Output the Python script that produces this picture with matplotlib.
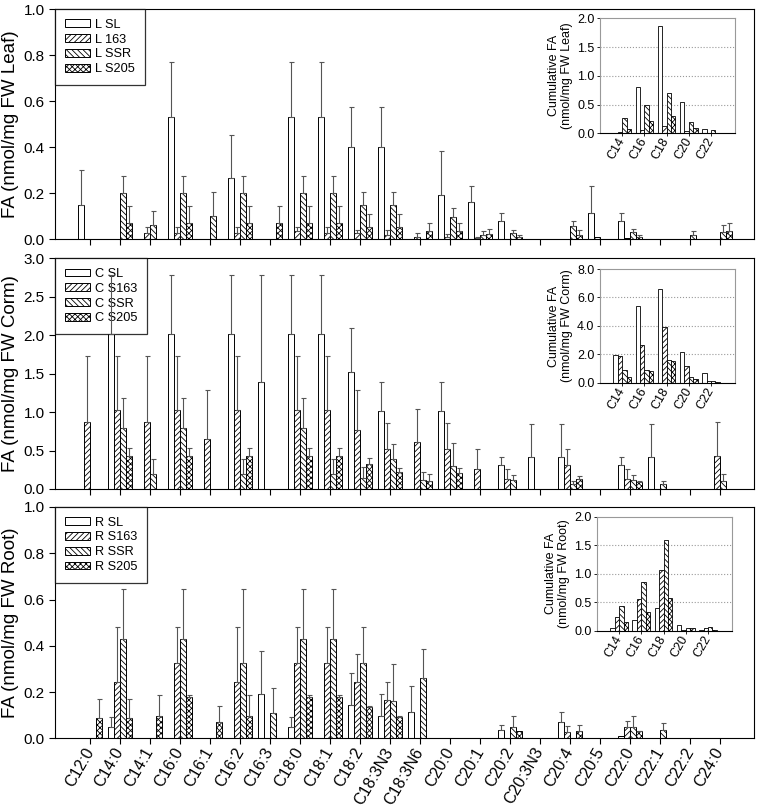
import numpy as np
import matplotlib.pyplot as plt

plt.rcParams['font.family'] = ['Liberation Sans', 'DejaVu Sans']
plt.rcParams['hatch.linewidth'] = 0.6

fatty_acids = ["C12:0", "C14:0", "C14:1", "C16:0", "C16:1", "C16:2", "C16:3",
               "C18:0", "C18:1", "C18:2", "C18:3N3", "C18:3N6", "C20:0", "C20:1",
               "C20:2", "C20:3N3", "C20:4", "C20:5", "C22:0", "C22:1", "C22:2", "C24:0"]
chain_groups = ["C14", "C16", "C18", "C20", "C22"]

# Leaf
leaf_sl = [0.15, 0, 0, 0.533, 0, 0.265, 0, 0.533, 0.533, 0.40, 0.40, 0, 0.193, 0.161, 0.08, 0, 0, 0.113, 0.08, 0, 0, 0]
leaf_sl_err = [0.15, 0, 0, 0.237, 0, 0.187, 0, 0.237, 0.237, 0.177, 0.177, 0, 0.191, 0.071, 0.033, 0, 0, 0.119, 0.033, 0, 0, 0]
leaf_163 = [0, 0, 0.026, 0.026, 0, 0.026, 0, 0.036, 0.026, 0.026, 0.019, 0.012, 0.012, 0.006, 0.003, 0, 0, 0.01, 0.004, 0, 0, 0]
leaf_163_err = [0, 0, 0.029, 0.029, 0, 0.029, 0, 0.019, 0.029, 0.014, 0.021, 0.014, 0.01, 0.005, 0, 0, 0, 0, 0, 0, 0, 0]
leaf_ssr = [0, 0.20, 0.062, 0.20, 0.101, 0.20, 0, 0.20, 0.20, 0.149, 0.149, 0, 0.099, 0.019, 0.026, 0, 0.058, 0, 0.03, 0, 0.019, 0.03]
leaf_ssr_err = [0, 0.075, 0.063, 0.075, 0.103, 0.075, 0, 0.075, 0.075, 0.055, 0.055, 0, 0.036, 0.019, 0.014, 0, 0.023, 0, 0.015, 0, 0.017, 0.03]
leaf_s205 = [0, 0.072, 0.003, 0.072, 0, 0.072, 0.072, 0.072, 0.072, 0.052, 0.052, 0.037, 0.038, 0.022, 0.012, 0, 0.02, 0, 0.012, 0, 0, 0.036]
leaf_s205_err = [0, 0.073, 0, 0.073, 0, 0.073, 0.073, 0.073, 0.073, 0.057, 0.057, 0.034, 0.034, 0.021, 0.006, 0, 0.021, 0, 0.006, 0, 0, 0.034]

# Corm
corm_sl = [0, 2.02, 0, 2.02, 0, 2.02, 1.39, 2.02, 2.02, 1.515, 1.013, 0, 1.013, 0, 0.307, 0.42, 0.42, 0, 0.307, 0.42, 0, 0]
corm_sl_err = [0, 0.76, 0, 0.76, 0, 0.76, 1.39, 0.76, 0.76, 0.585, 0.377, 0, 0.377, 0, 0.113, 0.42, 0.42, 0, 0.113, 0.42, 0, 0]
corm_163 = [0.866, 1.026, 0.866, 1.026, 0.65, 1.026, 0, 1.026, 1.026, 0.766, 0.515, 0.615, 0.515, 0.26, 0.13, 0, 0.31, 0, 0.13, 0, 0, 0.433]
corm_163_err = [0.864, 0.704, 0.864, 0.704, 0.64, 0.704, 0, 0.704, 0.704, 0.524, 0.338, 0.42, 0.338, 0.255, 0.125, 0, 0.205, 0, 0.125, 0, 0, 0.433]
corm_ssr = [0, 0.788, 0.195, 0.788, 0, 0.195, 0, 0.788, 0.195, 0.147, 0.39, 0.117, 0.30, 0, 0.117, 0, 0.06, 0, 0.117, 0.06, 0, 0.104]
corm_ssr_err = [0, 0.39, 0.195, 0.39, 0, 0.195, 0, 0.39, 0.195, 0.143, 0.194, 0.108, 0.293, 0, 0.063, 0, 0.048, 0, 0.063, 0.048, 0, 0.086]
corm_s205 = [0, 0.43, 0, 0.43, 0, 0.43, 0, 0.43, 0.43, 0.32, 0.216, 0.104, 0.212, 0, 0, 0, 0.13, 0, 0.095, 0, 0, 0]
corm_s205_err = [0, 0.10, 0, 0.10, 0, 0.10, 0, 0.10, 0.10, 0.08, 0.054, 0.086, 0.058, 0, 0, 0, 0.04, 0, 0.009, 0, 0, 0]

# Root
root_sl = [0, 0.048, 0, 0, 0, 0, 0.19, 0.048, 0, 0.144, 0.097, 0.115, 0, 0, 0.036, 0, 0.072, 0, 0.012, 0, 0, 0]
root_sl_err = [0, 0.046, 0, 0, 0, 0, 0.188, 0.046, 0, 0.14, 0.093, 0.113, 0, 0, 0.022, 0, 0.041, 0, 0, 0, 0, 0]
root_163 = [0, 0.242, 0, 0.325, 0, 0.242, 0, 0.325, 0.325, 0.242, 0.166, 0, 0, 0, 0, 0, 0.026, 0, 0.05, 0, 0, 0]
root_163_err = [0, 0.241, 0, 0.158, 0, 0.241, 0, 0.158, 0.158, 0.122, 0.076, 0, 0, 0, 0, 0, 0.026, 0, 0.024, 0, 0, 0]
root_ssr = [0, 0.43, 0, 0.43, 0, 0.325, 0.108, 0.43, 0.43, 0.325, 0.162, 0.26, 0, 0, 0.05, 0, 0, 0, 0.05, 0.036, 0, 0]
root_ssr_err = [0, 0.215, 0, 0.215, 0, 0.32, 0.108, 0.215, 0.215, 0.158, 0.16, 0.127, 0, 0, 0.047, 0, 0, 0, 0.047, 0.029, 0, 0]
root_s205 = [0.087, 0.087, 0.097, 0.18, 0.072, 0.097, 0, 0.18, 0.18, 0.137, 0.094, 0, 0, 0, 0.03, 0, 0.03, 0, 0.03, 0, 0, 0]
root_s205_err = [0.083, 0.083, 0.091, 0.008, 0.069, 0.091, 0, 0.008, 0.008, 0.004, 0.003, 0, 0, 0, 0, 0, 0.026, 0, 0.003, 0, 0, 0]

# cumulative insets (rows: SL, 163, SSR, S205)
leaf_cum = [[0, 0.80, 1.87, 0.55, 0.08],
            [0.03, 0.06, 0.13, 0.04, 0.01],
            [0.26, 0.50, 0.70, 0.20, 0.05],
            [0.08, 0.22, 0.30, 0.09, 0.01]]
corm_cum = [[1.98, 5.43, 6.57, 2.14, 0.70],
            [1.87, 2.68, 3.96, 1.21, 0.12],
            [0.93, 0.93, 1.63, 0.44, 0.16],
            [0.40, 0.82, 1.52, 0.30, 0.07]]
root_cum = [[0.05, 0.19, 0.40, 0.10, 0.01],
            [0.24, 0.56, 1.07, 0.02, 0.05],
            [0.43, 0.85, 1.60, 0.05, 0.07],
            [0.16, 0.33, 0.57, 0.05, 0.02]]

hatches = ['', '//////', '\\\\\\\\\\\\', 'xxxxxx']
offsets = np.array([-1.5, -0.5, 0.5, 1.5]) * 0.2
width = 0.2


def draw_panel(ax, series, errors, labels, ylabel, ymax, ystep):
    x = np.arange(len(fatty_acids))
    for k in range(4):
        vals = np.array(series[k])
        errs = np.array(errors[k])
        ax.bar(x + offsets[k], vals, width, color='white', edgecolor='black',
               linewidth=0.7, hatch=hatches[k], label=labels[k], zorder=2)
        # only the upper half of the error bar is drawn
        m = errs > 0
        ax.errorbar(x[m] + offsets[k], vals[m], yerr=[np.zeros(m.sum()), errs[m]],
                    fmt='none', ecolor='#555555', elinewidth=0.8, capsize=1.8,
                    capthick=0.8, zorder=6)
    ax.set_xlim(-1.17, 22.13)
    ax.set_ylim(0, ymax)
    ticks = np.arange(0, ymax + 1e-9, ystep)
    ax.set_yticks(ticks)
    ax.set_yticklabels([f"{v:.1f}" for v in ticks], fontsize=11)
    ax.set_xticks(x)
    ax.tick_params(axis='both', direction='out', length=4, width=0.8)
    ax.set_ylabel(ylabel, fontsize=13.5, labelpad=3)
    leg = ax.legend(loc='upper left', bbox_to_anchor=(0, 1), borderaxespad=0,
                    fancybox=False, edgecolor='black', fontsize=9.2,
                    handlelength=2.0, handleheight=0.55, labelspacing=0.22,
                    borderpad=0.75, handletextpad=0.4)
    leg.get_frame().set_linewidth(0.9)
    leg.set_zorder(3)


def draw_inset(fig, rect, cum, ylabel, ymax, ystep):
    ax = fig.add_axes(rect)
    x = np.arange(len(chain_groups))
    for k in range(4):
        ax.bar(x + offsets[k], cum[k], width, color='white', edgecolor='black',
               linewidth=0.6, hatch=hatches[k], zorder=2)
    ax.set_xlim(-1.0, 5.08)
    ax.set_ylim(0, ymax)
    ticks = np.arange(0, ymax + 1e-9, ystep)
    ax.set_yticks(ticks)
    ax.set_yticklabels([f"{v:.1f}" for v in ticks], fontsize=9)
    for t in ticks[1:-1]:
        ax.axhline(t, color='#999999', linestyle=':', linewidth=0.8, zorder=1)
    ax.set_xticks(x)
    ax.set_xticklabels(chain_groups, rotation=60, ha='right', va='center',
                       rotation_mode='anchor', fontsize=9)
    ax.tick_params(axis='both', direction='out', length=2, width=0.6, pad=2)
    for side in ['top', 'right', 'left']:
        ax.spines[side].set_color('#999999')
    ax.spines['bottom'].set_color('black')
    ax.set_ylabel(ylabel, fontsize=9, linespacing=1.15, labelpad=3)
    return ax


fig = plt.figure(figsize=(7.57, 8.10), dpi=100)

ax1 = fig.add_axes([0.0727, 0.7046, 0.9234, 0.284])
ax2 = fig.add_axes([0.0727, 0.3963, 0.9234, 0.2848])
ax3 = fig.add_axes([0.0727, 0.0885, 0.9234, 0.2856])

draw_panel(ax1, [leaf_sl, leaf_163, leaf_ssr, leaf_s205],
           [leaf_sl_err, leaf_163_err, leaf_ssr_err, leaf_s205_err],
           ["L SL", "L 163", "L SSR", "L S205"], "FA (nmol/mg FW Leaf)", 1.0, 0.2)
draw_panel(ax2, [corm_sl, corm_163, corm_ssr, corm_s205],
           [corm_sl_err, corm_163_err, corm_ssr_err, corm_s205_err],
           ["C SL", "C S163", "C SSR", "C S205"], "FA (nmol/mg FW Corm)", 3.0, 0.5)
draw_panel(ax3, [root_sl, root_163, root_ssr, root_s205],
           [root_sl_err, root_163_err, root_ssr_err, root_s205_err],
           ["R SL", "R S163", "R SSR", "R S205"], "FA (nmol/mg FW Root)", 1.0, 0.2)

ax1.set_xticklabels([])
ax2.set_xticklabels([])
ax3.set_xticklabels(fatty_acids, rotation=60, ha='right', va='center',
                    rotation_mode='anchor', fontsize=11.5)

draw_inset(fig, [0.7926, 0.8354, 0.1783, 0.142], leaf_cum,
           "Cumulative FA\n(nmol/mg FW Leaf)", 2.0, 0.5)
draw_inset(fig, [0.7926, 0.5272, 0.1783, 0.1407], corm_cum,
           "Cumulative FA\n(nmol/mg FW Corm)", 8.0, 2.0)
draw_inset(fig, [0.7886, 0.2210, 0.1783, 0.1411], root_cum,
           "Cumulative FA\n(nmol/mg FW Root)", 2.0, 0.5)

fig.savefig("out.png", dpi=100)
plt.close()
